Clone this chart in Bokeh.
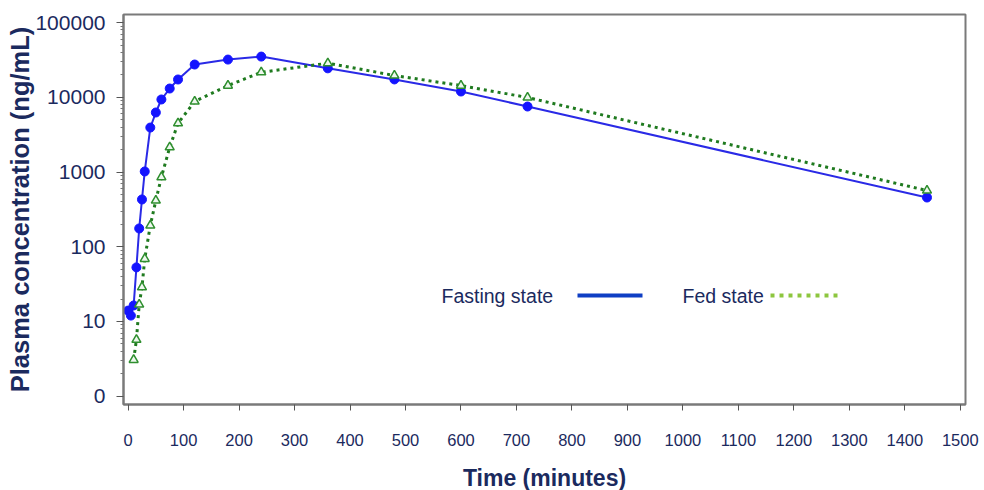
from bokeh.plotting import figure
from bokeh.models import FixedTicker, Label, Arrow, Range1d
from bokeh.embed import file_html
from bokeh.resources import INLINE

# ---- data ----
time_fasting = [0, 5, 10, 15, 20, 25, 30, 40, 50, 60, 75, 90, 120, 180, 240, 360, 480, 600, 720, 1440]
conc_fasting = [14, 12, 16.4, 53, 176, 430, 1020, 3950, 6280, 9380, 13150, 17370, 27560, 32100, 35200,
                24500, 17400, 12000, 7550, 457]

time_fed = [10, 15, 20, 25, 30, 40, 50, 60, 75, 90, 120, 180, 240, 360, 480, 600, 720, 1440]
conc_fed = [3.07, 5.7, 16.9, 28.8, 69, 193, 417, 855, 2150, 4510, 8810, 14400, 21700, 28700,
            19650, 14400, 9970, 567]

x_ticks = list(range(0, 1501, 100))
y_ticks = [1, 10, 100, 1000, 10000, 100000]
y_tick_labels = ["0", "10", "100", "1000", "10000", "100000"]
y_minor = [m * 10 ** e for e in range(0, 5) for m in range(2, 10)]

series_names = ["Fasting state", "Fed state"]

NAVY = "#1b2a5e"
FONT = "Liberation Sans"
GRAY = "#7a7a7a"

p = figure(
    x_range=Range1d(-8.3, 1509.4),
    y_range=Range1d(0.774, 128800),
    y_axis_type="log",
    frame_width=842, frame_height=390,
    min_border_left=123, min_border_right=19, min_border_top=14, min_border_bottom=86,
    output_backend="svg", toolbar_location=None,
)
p.xgrid.visible = False
p.ygrid.visible = False
p.outline_line_color = GRAY
p.outline_line_width = 2
p.background_fill_color = "white"
p.border_fill_color = "white"

xa = p.xaxis[0]
xa.ticker = FixedTicker(ticks=x_ticks, minor_ticks=[])
xa.axis_line_color = GRAY
xa.axis_line_width = 2
xa.major_tick_line_color = "#555555"
xa.major_tick_out = 6
xa.major_tick_in = 0
xa.minor_tick_out = 0
xa.minor_tick_in = 0
xa.major_label_text_font = FONT
xa.major_label_text_font_size = "16.5px"
xa.major_label_text_color = NAVY
xa.major_label_standoff = 23
xa.axis_label = "Time (minutes)"
xa.axis_label_text_font = FONT
xa.axis_label_text_font_size = "23px"
xa.axis_label_text_font_style = "bold"
xa.axis_label_text_color = NAVY
xa.axis_label_standoff = 16

ya = p.yaxis[0]
ya.ticker = FixedTicker(ticks=y_ticks, minor_ticks=y_minor)
ya.major_label_overrides = {t: lab for t, lab in zip(y_ticks, y_tick_labels)}
ya.axis_line_color = GRAY
ya.axis_line_width = 2
ya.major_tick_line_color = "#555555"
ya.minor_tick_line_color = "#777777"
ya.major_tick_out = 7
ya.major_tick_in = 0
ya.minor_tick_out = 3
ya.minor_tick_in = 0
ya.major_label_text_font = FONT
ya.major_label_text_font_size = "21px"
ya.major_label_text_color = NAVY
ya.major_label_standoff = 11
ya.axis_label = "Plasma concentration (ng/mL)"
ya.axis_label_text_font = FONT
ya.axis_label_text_font_size = "25.5px"
ya.axis_label_text_font_style = "bold"
ya.axis_label_text_color = NAVY
ya.axis_label_standoff = -2

# ---- series ----
p.line(time_fasting, conc_fasting, line_color="#2a2ae6", line_width=2)
p.scatter(time_fasting, conc_fasting, marker="circle", size=9,
          fill_color="#1414ff", line_color="#1414ff")

p.line(time_fed, conc_fed, line_color="#1f7a1f", line_width=3, line_dash="3 4")
p.scatter(time_fed, conc_fed, marker="triangle", size=9,
          fill_color="#eef7ee", line_color="#2f8f2f", line_width=1.5)

# ---- legend (label first, then line sample) ----
legend_y = 109
p.add_layout(Label(x=318, y=legend_y, x_units="screen", y_units="screen", text=series_names[0],
                   text_font=FONT, text_font_size="19.5px", text_color=NAVY,
                   text_align="left", text_baseline="middle"))
p.add_layout(Arrow(x_start=454, y_start=legend_y, x_end=519, y_end=legend_y,
                   start_units="screen", end_units="screen", start=None, end=None,
                   line_color="#0f3fc4", line_width=4))
p.add_layout(Label(x=559, y=legend_y, x_units="screen", y_units="screen", text=series_names[1],
                   text_font=FONT, text_font_size="19.5px", text_color=NAVY,
                   text_align="left", text_baseline="middle"))
p.add_layout(Arrow(x_start=647, y_start=legend_y, x_end=716, y_end=legend_y,
                   start_units="screen", end_units="screen", start=None, end=None,
                   line_color="#8dc63f", line_width=4, line_dash="4 5"))

open("out.html", "w").write(file_html(p, INLINE))
